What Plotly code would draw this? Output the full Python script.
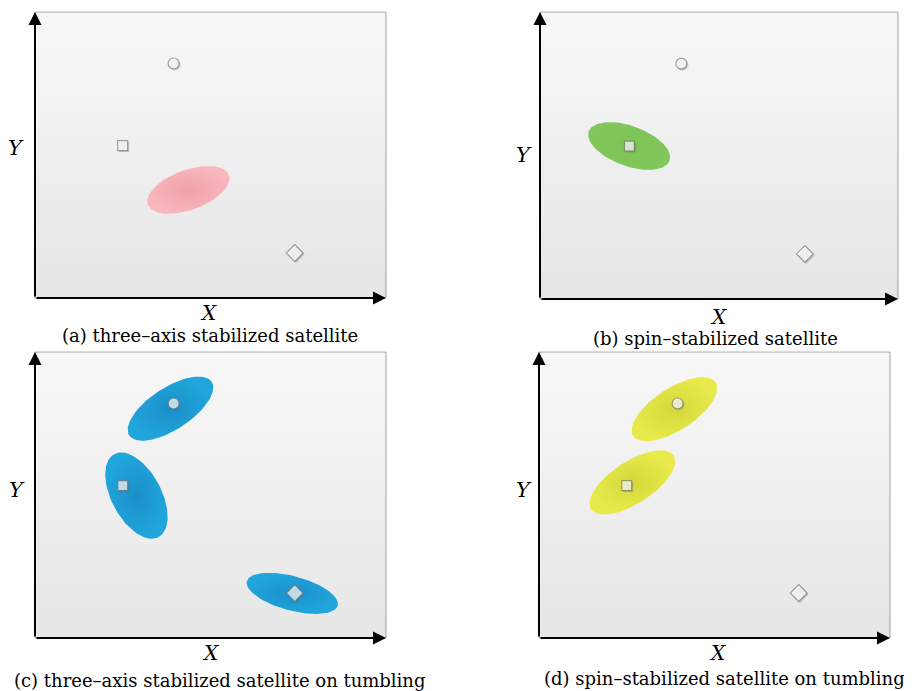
import numpy as np
import plotly.graph_objects as go

# ---------------- data ----------------
panel_ids = ["a", "b", "c", "d"]
captions = [
    "(a) three–axis stabilized satellite",
    "(b) spin–stabilized satellite",
    "(c) three–axis stabilized satellite on tumbling",
    "(d) spin–stabilized satellite on tumbling",
]
axis_x_label = "X"
axis_y_label = "Y"

# three targets (same in every panel), in axis units 0..10
target_symbols = ["circle", "square", "diamond"]
target_x = [3.95, 2.5, 7.4]
target_y = [8.2, 5.33, 1.57]
target_size = [11, 10, 13]

# uncertainty ellipses: panel, centre, semi-axes (x-units), tilt (deg)
ellipse_panel = ["a", "b", "c", "c", "c", "d", "d"]
ellipse_cx = [4.37, 2.49, 3.86, 2.89, 7.33, 3.86, 2.66]
ellipse_cy = [3.78, 5.33, 8.02, 4.98, 1.56, 8.00, 5.44]
ellipse_major = [1.23, 1.20, 1.40, 1.34, 1.34, 1.40, 1.40]
ellipse_minor = [0.57, 0.56, 0.60, 0.71, 0.49, 0.60, 0.60]
ellipse_angle = [20, -20, 33, -62, -15, 33, 33]

# ---------------- style / layout ----------------
PAGE_W, PAGE_H = 912, 691
OFF = 8  # default page body margin
W, H = PAGE_W - OFF, PAGE_H - OFF
FONT = "DejaVu Serif"
# plot box in page pixels: left, right, bottom, top
boxes = {"a": (35, 386, 298, 12), "b": (540, 898, 299, 12),
         "c": (35, 386, 638, 352), "d": (539, 890, 638, 352)}
ylab_pos = {"a": (16, 148), "b": (524, 155), "c": (17, 490), "d": (524, 490)}
xlab_pos = {"a": (208, 313), "b": (718, 317), "c": (210, 653), "d": (717, 653)}
cap_pos = {"a": (210, 335), "b": (715, 338), "c": (220, 680), "d": (724, 678)}
ell_scale = {
    "a": [[0, "#f2a0a9"], [1, "#f7b7bd"]],
    "b": [[0, "#7cc354"], [1, "#82c75b"]],
    "c": [[0, "#1b8fc9"], [1, "#20a6db"]],
    "d": [[0, "#d3d83a"], [1, "#e8ea4b"]],
}

PAD = 0.03
fig = go.Figure()
layout = dict(width=W, height=H, margin=dict(l=0, r=0, t=0, b=0),
              paper_bgcolor="white", plot_bgcolor="rgba(0,0,0,0)",
              showlegend=False)
annotations = []

t = np.linspace(0, 2 * np.pi, 121)

for i, p in enumerate(panel_ids):
    sfx = "" if i == 0 else str(i + 1)
    xa, ya = "x" + sfx, "y" + sfx
    L, R, B, T = [v - OFF for v in boxes[p]]
    pxx = (R - L) / 10.0
    pxy = (B - T) / 10.0
    dom_x = [(L - PAD * pxx) / W, (R + PAD * pxx) / W]
    dom_y = [1 - (B + PAD * pxy) / H, 1 - (T - PAD * pxy) / H]
    layout["xaxis" + sfx] = dict(domain=dom_x, range=[-PAD, 10 + PAD], visible=False,
                                 anchor=ya, fixedrange=True)
    layout["yaxis" + sfx] = dict(domain=dom_y, range=[-PAD, 10 + PAD], visible=False,
                                 anchor=xa, fixedrange=True)

    # background box with vertical gradient
    fig.add_trace(go.Scatter(
        x=[0, 10, 10, 0, 0], y=[0, 0, 10, 10, 0], xaxis=xa, yaxis=ya,
        mode="lines", fill="toself",
        fillgradient=dict(type="vertical", colorscale=[[0, "#e6e6e6"], [1, "#f8f8f8"]]),
        line=dict(color="#a0a0a0", width=1), hoverinfo="skip"))

    # ellipses
    asp = pxx / pxy
    for k, ep in enumerate(ellipse_panel):
        if ep != p:
            continue
        th = np.deg2rad(ellipse_angle[k])
        u = ellipse_major[k] * np.cos(t)
        v = ellipse_minor[k] * np.sin(t)
        ex = ellipse_cx[k] + u * np.cos(th) - v * np.sin(th)
        ey = ellipse_cy[k] + (u * np.sin(th) + v * np.cos(th)) * asp
        fig.add_trace(go.Scatter(
            x=ex, y=ey, xaxis=xa, yaxis=ya, mode="lines", fill="toself",
            fillgradient=dict(type="radial", colorscale=ell_scale[p]),
            line=dict(width=0, color="rgba(0,0,0,0)"), hoverinfo="skip"))

    # target shadows (1.5 px down-right) then targets
    sx = [x + 1.5 / pxx for x in target_x]
    sy = [y - 1.5 / pxy for y in target_y]
    fig.add_trace(go.Scatter(
        x=sx, y=sy, xaxis=xa, yaxis=ya, mode="markers",
        marker=dict(symbol=target_symbols, size=target_size, color="rgba(90,90,90,0.35)",
                    line=dict(width=0)),
        cliponaxis=False, hoverinfo="skip"))
    fig.add_trace(go.Scatter(
        x=target_x, y=target_y, xaxis=xa, yaxis=ya, mode="markers",
        marker=dict(symbol=target_symbols, size=target_size, color="white",
                    line=dict(color="#7a7a7a", width=1.2)),
        cliponaxis=False, hoverinfo="skip"))

    # axis arrows
    for (hx, hy) in [(0, 10), (10, 0)]:
        annotations.append(dict(
            x=hx, y=hy, ax=0, ay=0, xref=xa, yref=ya, axref=xa, ayref=ya,
            text="", showarrow=True, arrowhead=2, arrowsize=1.3, arrowwidth=2,
            arrowcolor="black", standoff=0))

    # labels
    for (pos, txt, size) in [(ylab_pos[p], "<i>" + axis_y_label + "</i>", 21),
                             (xlab_pos[p], "<i>" + axis_x_label + "</i>", 20),
                             (cap_pos[p], captions[i], 18)]:
        annotations.append(dict(
            x=(pos[0] - OFF) / W, y=1 - (pos[1] - OFF) / H, xref="paper", yref="paper",
            text=txt, showarrow=False, xanchor="center", yanchor="middle",
            font=dict(family=FONT, size=size, color="black")))

layout["annotations"] = annotations
fig.update_layout(**layout)
fig.write_html("out.html")
